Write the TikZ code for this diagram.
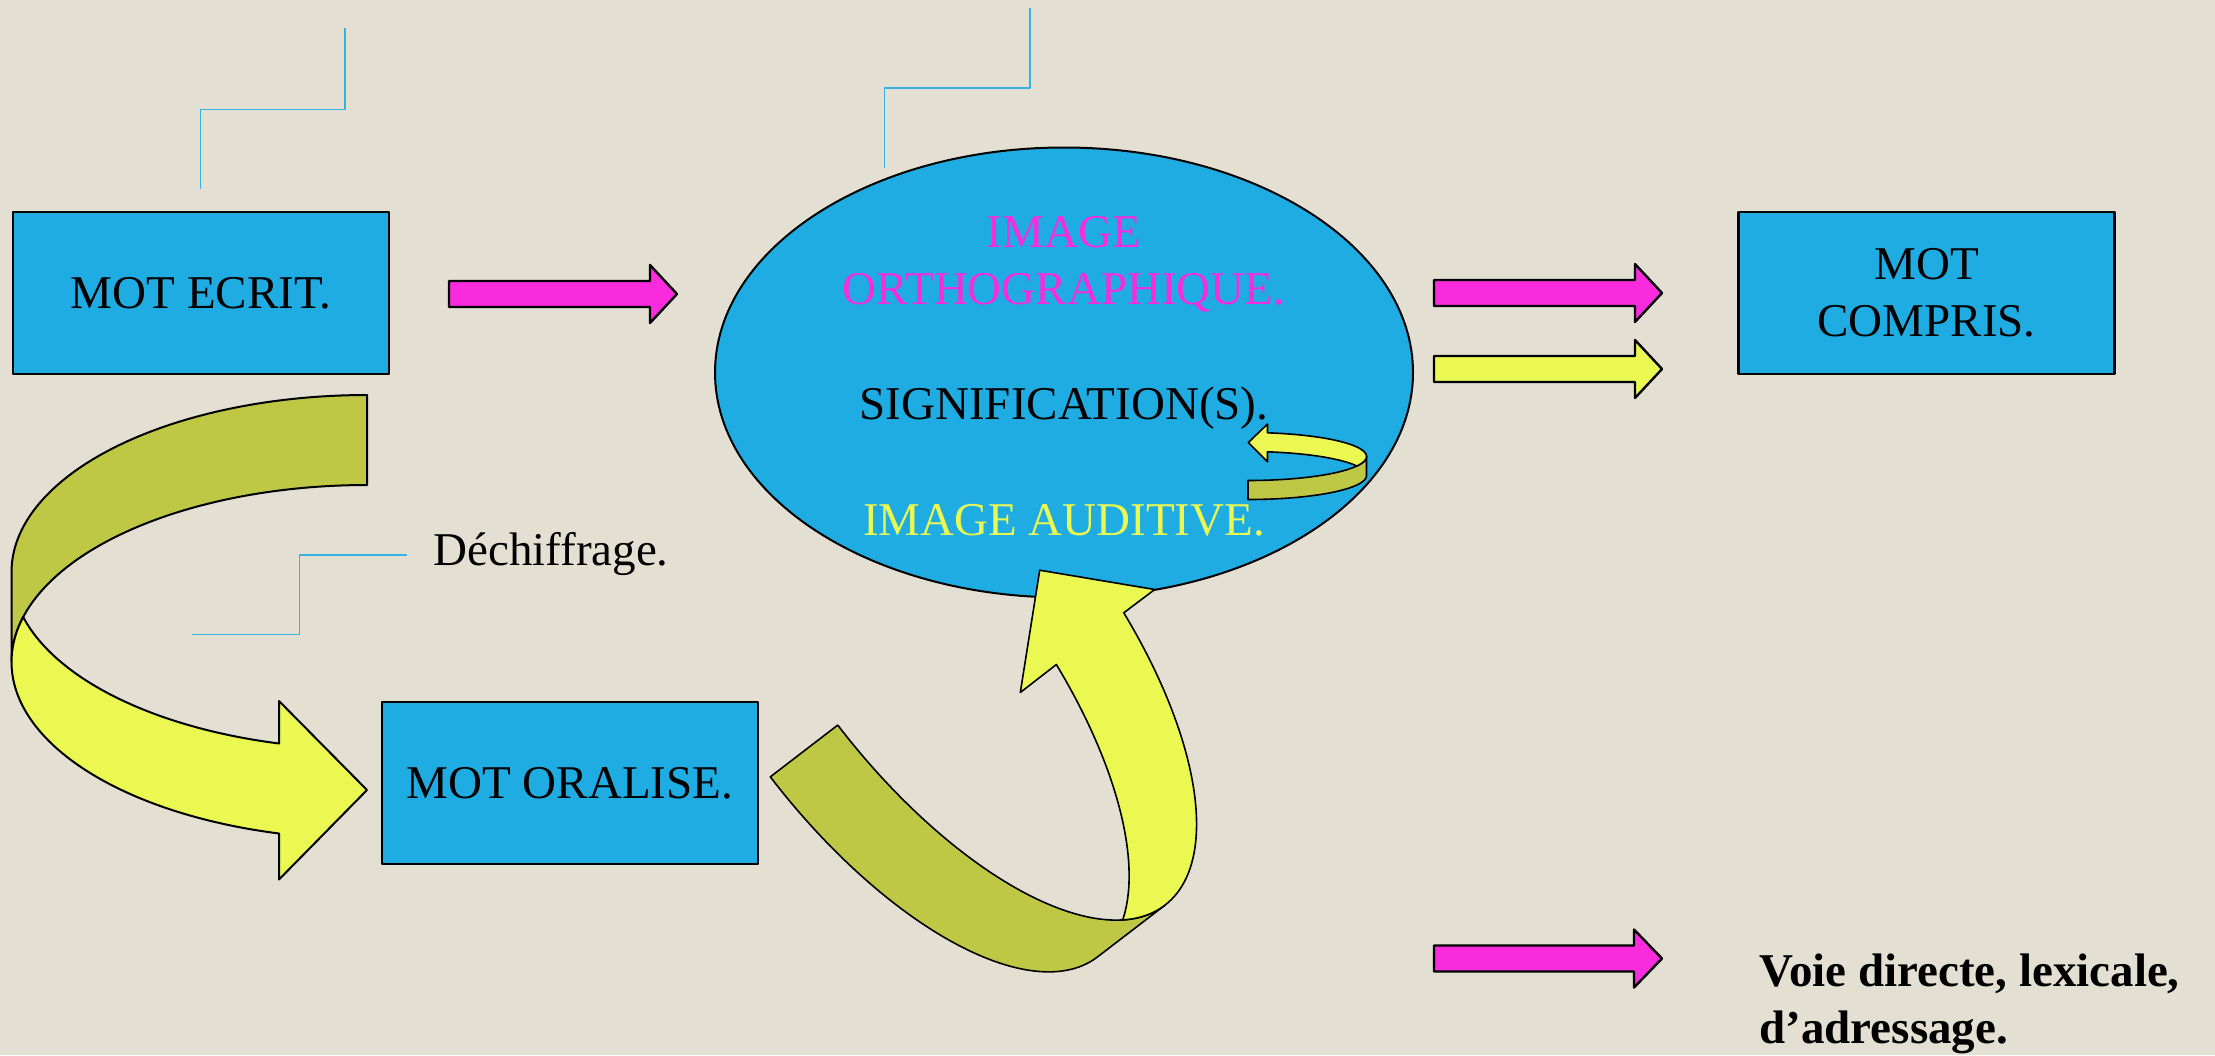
\documentclass[tikz,border=0pt]{standalone}
\usepackage{fontspec}
\setmainfont{Liberation Serif}
\usetikzlibrary{shapes.geometric}
\definecolor{bgc}{RGB}{228,223,211}
\definecolor{boxblue}{RGB}{30,172,226}
\definecolor{mag}{RGB}{249,43,221}
\definecolor{yel}{RGB}{235,248,82}
\definecolor{olive2}{RGB}{191,200,69}
\definecolor{lineblue}{RGB}{56,176,226}
\newcommand\mainfs{\fontsize{23.5}{28.5}\selectfont}
% block arrow: #1 colour, #2 x start, #3 x head base, #4 x tip, #5 y centre
\newcommand\blockarr[5]{\filldraw[shapeline, fill=#1] (#2,#5-13) -- (#3,#5-13) -- (#3,#5-29) -- (#4,#5) -- (#3,#5+29) -- (#3,#5+13) -- (#2,#5+13) -- cycle;}
\begin{document}
\begin{tikzpicture}[x=0.5pt,y=-0.5pt, line join=round,
  box/.style={draw=black, line width=1.2pt, fill=boxblue, minimum width=188pt, minimum height=81pt, inner sep=0pt, font=\mainfs},
  txt/.style={font=\mainfs, inner sep=0pt},
  shapeline/.style={draw=black, line width=1.2pt},
  ribbon/.style={draw=black, line width=1pt},
  thinribbon/.style={draw=black, line width=0.8pt},
  blueline/.style={draw=lineblue, line width=0.8pt}]
\useasboundingbox (0,0) rectangle (2215,1055);
\fill[bgc] (0,0) rectangle (2215,1055);

% guide lines
\draw[blueline] (345,28) -- (345,109.5) -- (200.6,109.5) -- (200.6,189);
\draw[blueline] (1030,8) -- (1030,88) -- (884.5,88) -- (884.5,168);
\draw[blueline] (407,555) -- (299.5,555) -- (299.5,634.5) -- (192,634.5);

% boxes
\node[box] (ecrit) at (201,293) {MOT ECRIT.};
\node[box, align=center] (compris) at (1926.6,293) {MOT\\COMPRIS.};
\node[box] (oralise) at (570,783) {MOT ORALISE.};

% ellipse
\node[draw=black, line width=1pt, fill=boxblue, ellipse, minimum width=349pt, minimum height=225pt, inner sep=0pt] (img) at (1064,372.5) {};

% small curved arrow inside the ellipse
\filldraw[thinribbon, fill=olive2]
  plot[domain=0:90, samples=40, variable=\t] ({1248+118.5*cos(\t)},{456.5+24*sin(\t)})
  -- plot[domain=90:0, samples=40, variable=\t] ({1248+118.5*cos(\t)},{475.5+24*sin(\t)})
  -- cycle;
\filldraw[thinribbon, fill=yel] (1267.5,424)
  -- plot[domain=-80.53:23.3, samples=50, variable=\t] ({1248+118.5*cos(\t)},{456.5+24*sin(\t)})
  -- plot[domain=-23.3:-80.53, samples=50, variable=\t] ({1248+118.5*cos(\t)},{475.5+24*sin(\t)})
  -- (1267.5,461.7) -- (1248.3,442.5) -- cycle;

% texts in the ellipse
\node[txt, text=mag, anchor=base] (t1) at (1064,247) {IMAGE};
\node[txt, text=mag, anchor=base] (t2) at (1064,304) {ORTHOGRAPHIQUE.};
\node[txt, anchor=base] (t3) at (1064,419) {SIGNIFICATION(S).};
\node[txt, text=yel, anchor=base] (t4) at (1064,535) {IMAGE AUDITIVE.};

% straight block arrows
\blockarr{mag}{449}{650}{677}{294}
\blockarr{mag}{1434}{1635}{1662}{293}
\blockarr{yel}{1434}{1635}{1662}{369}
\blockarr{mag}{1434}{1634}{1662}{958.5}

% big curved arrow MOT ECRIT -> MOT ORALISE
\filldraw[ribbon, fill=olive2]
  plot[domain=270:180, samples=80, variable=\t] ({367+355.5*cos(\t)},{572+177*sin(\t)})
  -- plot[domain=180:270, samples=80, variable=\t] ({367+355.5*cos(\t)},{662+177*sin(\t)})
  -- cycle;
\filldraw[ribbon, fill=yel] (279,743.5) -- (279,701) -- (367,790) -- (279,879.5)
  -- plot[domain=104.33:194.73, samples=80, variable=\t] ({367+355.5*cos(\t)},{662+177*sin(\t)})
  -- plot[domain=165.27:104.33, samples=80, variable=\t] ({367+355.5*cos(\t)},{572+177*sin(\t)})
  -- cycle;

% big curved arrow MOT ORALISE -> IMAGE AUDITIVE
\filldraw[thinribbon, fill=olive2]
  plot[domain=180:90, samples=80, variable=\t] ({889.32+119.03*cos(\t)+208.18*sin(\t)},{685.53-91.31*cos(\t)+271.38*sin(\t)})
  -- plot[domain=90:180, samples=80, variable=\t] ({956.76+119.03*cos(\t)+208.18*sin(\t)},{633.79-91.31*cos(\t)+271.38*sin(\t)})
  -- cycle;
\filldraw[thinribbon, fill=yel]
  plot[domain=73.54:14.39, samples=80, variable=\t] ({889.32+119.03*cos(\t)+208.18*sin(\t)},{685.53-91.31*cos(\t)+271.38*sin(\t)})
  -- (1020.3,692.5) -- (1039.7,570.2) -- (1154.7,589.5)
  -- plot[domain=14.39:106.46, samples=80, variable=\t] ({956.76+119.03*cos(\t)+208.18*sin(\t)},{633.79-91.31*cos(\t)+271.38*sin(\t)})
  -- cycle;

% labels
\node[txt, anchor=base west] (dech) at (433,565.5) {Déchiffrage.};
\node[txt, font=\mainfs\bfseries, anchor=north west, align=left] (legend) at (1759,953) {Voie directe, lexicale,\\d’adressage.};
\end{tikzpicture}
\end{document}
